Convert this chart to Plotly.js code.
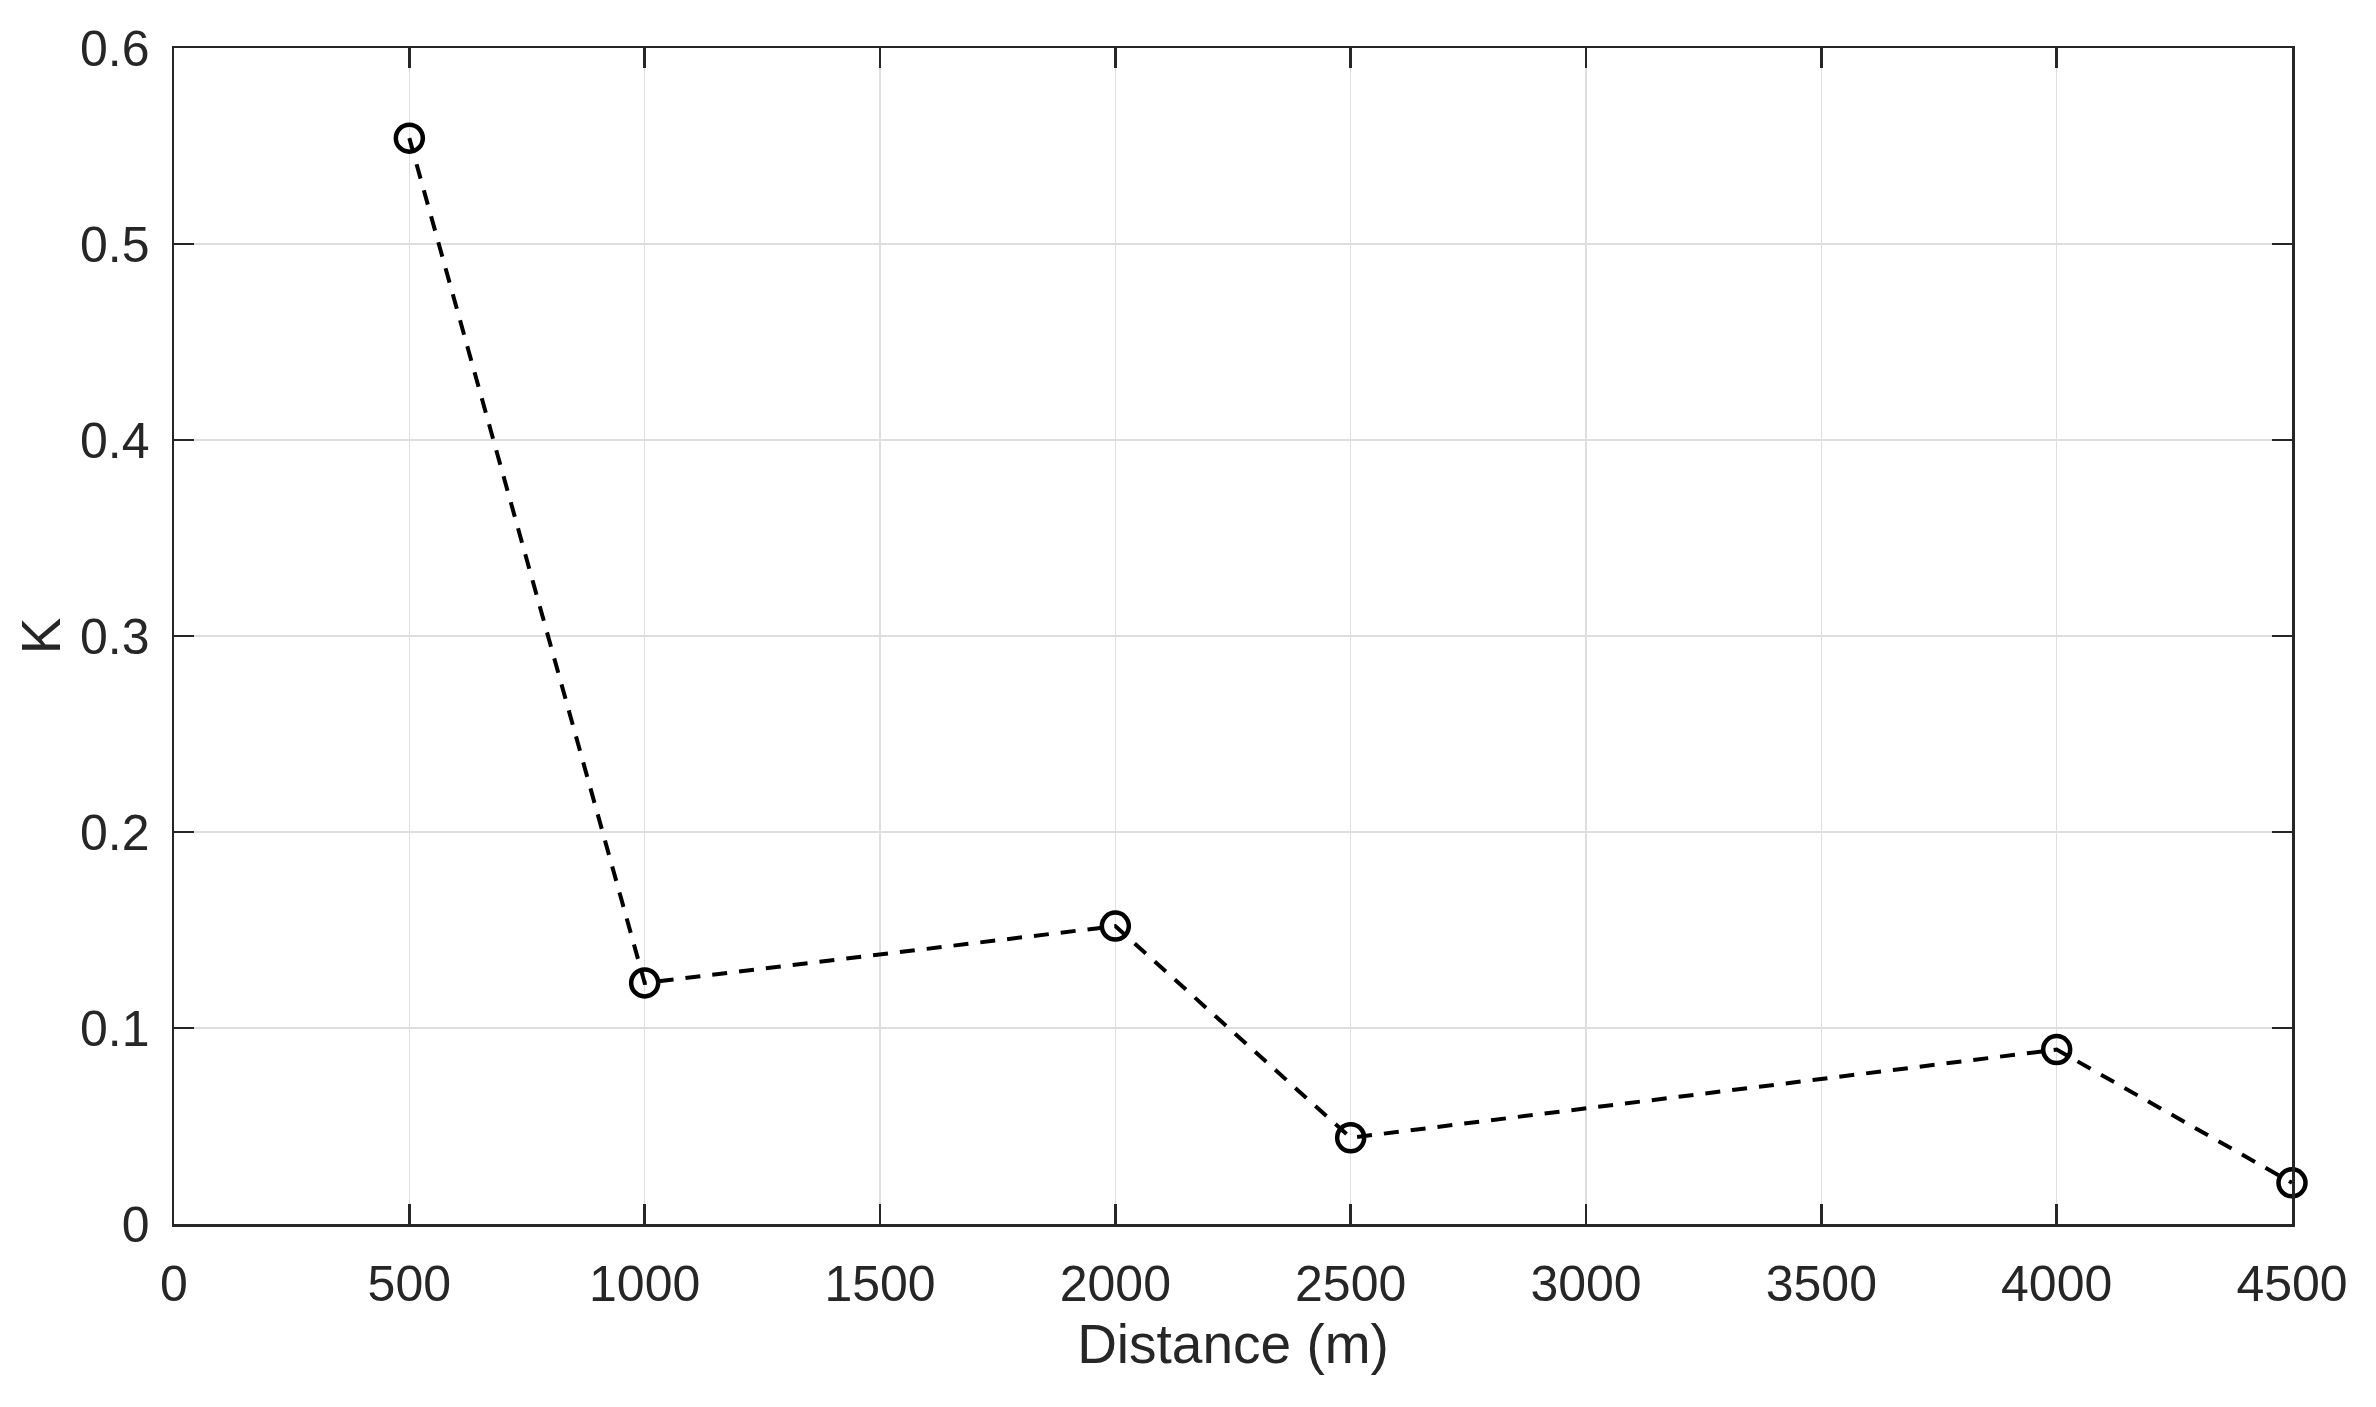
<!DOCTYPE html>
<html>
<head>
<meta charset="utf-8">
<script src="https://cdn.plot.ly/plotly-3.0.1.min.js"></script>
<style>
  html, body { margin: 0; padding: 0; background: #fff; }
  #plot { width: 2376px; height: 1407px; }
</style>
</head>
<body>
<div id="plot"></div>
<script>
// distance (m) and K
var distances = [500, 1000, 2000, 2500, 4000, 4500];
var kValues = [0.554, 0.123, 0.152, 0.044, 0.089, 0.021];

var xTicks = [0, 500, 1000, 1500, 2000, 2500, 3000, 3500, 4000, 4500];
var yTicks = [0, 0.1, 0.2, 0.3, 0.4, 0.5, 0.6];

var axisColor = '#262626';
var gridColor = '#dedede';
var fontFamily = 'Liberation Sans, Arial, sans-serif';

var trace = {
    x: distances,
    y: kValues,
    mode: 'lines+markers',
    type: 'scatter',
    line: { color: '#000', width: 4, dash: '15px,12px' },
    marker: {
        symbol: 'circle-open',
        size: 27,
        color: '#000',
        line: { color: '#000', width: 4.5 }
    },
    cliponaxis: false,
    showlegend: false
};

var layout = {
    width: 2376,
    height: 1407,
    margin: { l: 174, r: 84, t: 48, b: 183 },
    paper_bgcolor: '#fff',
    plot_bgcolor: '#fff',
    font: { family: fontFamily, size: 50, color: axisColor },
    xaxis: {
        range: [0, 4500],
        tickvals: xTicks,
        ticktext: xTicks.map(String),
        ticks: 'inside',
        ticklen: 20,
        tickwidth: 2.5,
        tickcolor: axisColor,
        showline: true,
        linecolor: axisColor,
        linewidth: 2.5,
        mirror: 'ticks',
        showgrid: true,
        gridcolor: gridColor,
        gridwidth: 1.5,
        zeroline: false,
        ticklabelstandoff: 14,
        title: { text: 'Distance (m)', font: { size: 55 }, standoff: 14 }
    },
    yaxis: {
        range: [0, 0.6],
        tickvals: yTicks,
        ticktext: yTicks.map(String),
        ticks: 'inside',
        ticklen: 20,
        tickwidth: 2.5,
        tickcolor: axisColor,
        showline: true,
        linecolor: axisColor,
        linewidth: 2.5,
        mirror: 'ticks',
        showgrid: true,
        gridcolor: gridColor,
        gridwidth: 1.5,
        zeroline: false,
        ticklabelstandoff: 12,
        title: { text: 'K', font: { size: 55 }, standoff: 2 }
    }
};

Plotly.newPlot('plot', [trace], layout, { displayModeBar: false, staticPlot: true });
</script>
</body>
</html>
